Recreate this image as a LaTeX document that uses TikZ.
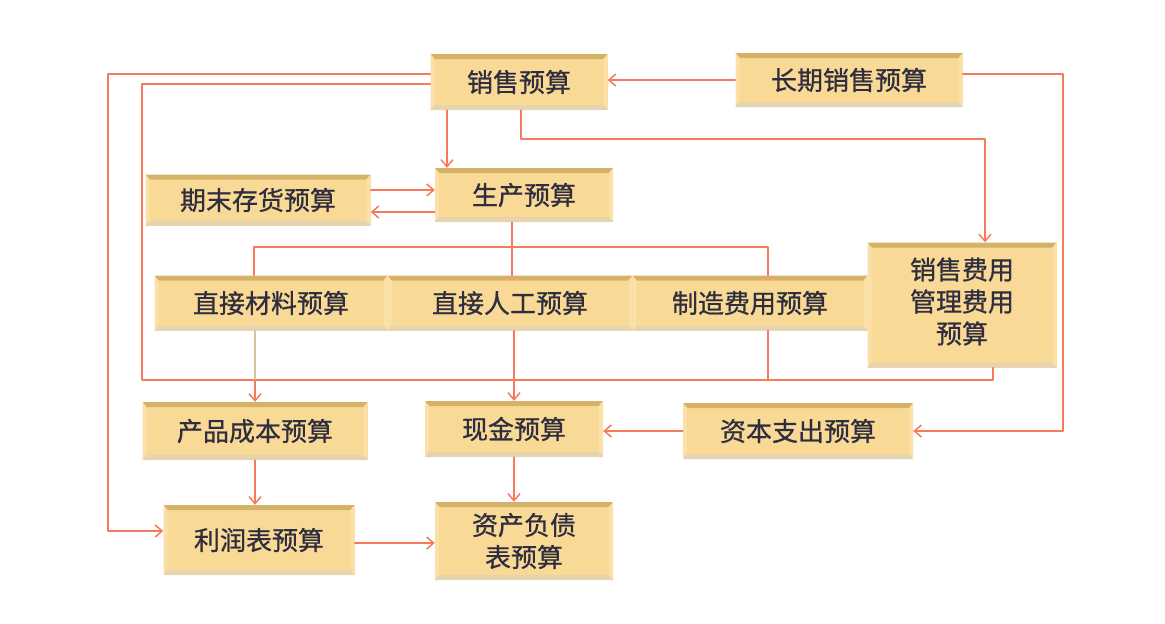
\documentclass[tikz,border=0pt]{standalone}
\usepackage{fontspec}
\newfontfamily\cjk[FakeBold=0.8]{Noto Sans CJK SC}
\usetikzlibrary{arrows.meta}

\definecolor{linkcol}{RGB}{246,122,92}
\definecolor{tancol}{RGB}{214,196,160}
\definecolor{boxfill}{RGB}{249,217,150}
\definecolor{boxtop}{RGB}{214,178,104}
\definecolor{boxside}{RGB}{251,224,168}
\definecolor{boxbot}{RGB}{230,212,176}
\definecolor{txtcol}{RGB}{46,46,62}

\tikzset{
	budget/.style={rectangle, fill=boxfill, text=txtcol, inner sep=0pt,
		font=\cjk\fontsize{26}{32}\selectfont,
		path picture={
			\path (path picture bounding box.north west) coordinate (nw)
				(path picture bounding box.south east) coordinate (se);
			% bevel: dark top, light sides, greyish bottom
			\fill[boxtop] (nw) -- (nw -| se) -- ([xshift=-4pt,yshift=-5pt]nw -| se) -- ([xshift=4pt,yshift=-5pt]nw) -- cycle;
			\fill[boxside] (nw) -- ([xshift=4pt,yshift=-5pt]nw) -- ([xshift=4pt,yshift=5pt]se -| nw) -- (se -| nw) -- cycle;
			\fill[boxside] (nw -| se) -- ([xshift=-4pt,yshift=-5pt]nw -| se) -- ([xshift=-4pt,yshift=5pt]se) -- (se) -- cycle;
			\fill[boxbot] (se -| nw) -- ([xshift=4pt,yshift=5pt]se -| nw) -- ([xshift=-4pt,yshift=5pt]se) -- (se) -- cycle;
		}},
	link/.style={draw=linkcol, line width=1.5pt},
}

\begin{document}
\begin{tikzpicture}[x=1pt, y=-1pt, >={Straight Barb[length=7pt,width=12pt]}, line join=round, line cap=round]
	\useasboundingbox (0,0) rectangle (1165,624);
	% boxes
	\node[budget, minimum width=177pt, minimum height=56pt] (sales) at (519,82) {销售预算};
	\node[budget, minimum width=227pt, minimum height=54pt] (ltsales) at (849,80) {长期销售预算};
	\node[budget, minimum width=225pt, minimum height=51pt] (inv) at (258,200) {期末存货预算};
	\node[budget, minimum width=178pt, minimum height=54pt] (prod) at (524,195) {生产预算};
	\node[budget, minimum width=233pt, minimum height=55pt] (mat) at (271,303) {直接材料预算};
	\node[budget, minimum width=245pt, minimum height=55pt] (lab) at (510,303) {直接人工预算};
	\node[budget, minimum width=235pt, minimum height=55pt] (mfg) at (750,303) {制造费用预算};
	\node[budget, minimum width=189pt, minimum height=125pt] (adm) at (962,305)
		{\raisebox{16pt}{\begin{tabular}{@{}c@{}}销售费用\\管理费用\\预算\end{tabular}}};
	\node[budget, minimum width=225pt, minimum height=58pt] (cost) at (255,431) {产品成本预算};
	\node[budget, minimum width=178pt, minimum height=56pt] (cash) at (514,429) {现金预算};
	\node[budget, minimum width=230pt, minimum height=56pt] (capex) at (798,431) {资本支出预算};
	\node[budget, minimum width=191pt, minimum height=70pt] (income) at (259,540) {利润表预算};
	\node[budget, minimum width=178pt, minimum height=78pt, align=center] (bal) at (524,541) {资产负债\\表预算};

	% helper points
	\coordinate (busL) at (108,0);
	\coordinate (busM) at (142,380);
	\coordinate (busR) at (1063,0);
	\coordinate (rowA) at (0,139);
	\coordinate (rowB) at (0,247);
	\coordinate (s1) at ([xshift=-72pt]sales.south);
	\coordinate (s2) at ([xshift=2pt]sales.south);
	\coordinate (a1) at ([xshift=23pt]adm.north);
	\coordinate (a2) at ([xshift=31pt]adm.south);
	\coordinate (i1) at ([yshift=10pt]inv.east);
	\coordinate (p1) at ([yshift=-17pt]prod.west);
	\coordinate (p2) at ([xshift=-12pt]prod.south);
	\coordinate (m1) at ([xshift=-17pt]mat.north);
	\coordinate (f1) at ([xshift=18pt]mfg.north);
	\coordinate (f2) at ([xshift=18pt]mfg.south);
	\coordinate (r1) at ([yshift=9pt]income.west);
	\coordinate (r2) at ([yshift=-3pt]income.east);

	% connectors
	\draw[link,->] ([yshift=8pt]sales.west) -| (busL |- r1) -- (r1);
	\draw[link] ([yshift=-2pt]sales.west) -| (busM) -| (a2);
	\draw[link,->] (s1) -- (s1 |- prod.north);
	\draw[link,->] (s2) |- (a1 |- rowA) -- (a1);
	\draw[link,->] (ltsales.west) -- (ltsales.west -| sales.east);
	\draw[link,->] ([yshift=6pt]ltsales.east) -| (busR |- capex.east) -- (capex.east);
	\draw[link,->] (i1) -- (i1 -| prod.west);
	\draw[link,->] (p1) -- (p1 -| inv.east);
	\draw[link] (p2) -- (p2 |- lab.north);
	\draw[link] (m1) |- (f1 |- rowB) -- (f1);
	\draw[link, draw=tancol] (mat.south -| cost.north) -- (cost.north |- busM);
	\draw[link,->] (cost.north |- busM) -- (cost.north);
	\draw[link,->] (lab.south -| cash.north) -- (cash.north);
	\draw[link] (f2) -- (f2 |- busM);
	\draw[link,->] (capex.west) -- (capex.west -| cash.east);
	\draw[link,->] (cost.south) -- (cost.south |- income.north);
	\draw[link,->] (cash.south) -- (cash.south |- bal.north);
	\draw[link,->] (r2) -- (r2 -| bal.west);
\end{tikzpicture}
\end{document}
